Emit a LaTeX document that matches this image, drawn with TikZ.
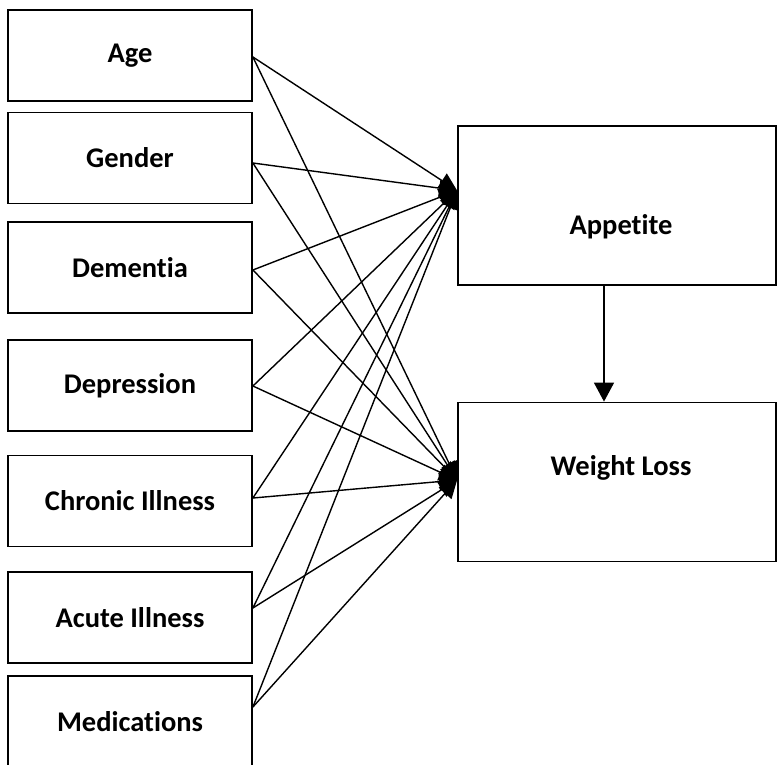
\documentclass[tikz,border=0pt]{standalone}
\usepackage{fontspec}
\setmainfont{Carlito}[Ligatures=NoCommon]
\usetikzlibrary{arrows.meta}
\begin{document}
\begin{tikzpicture}[x=1pt, y=-1pt,
  factor/.style={draw, line width=1.8pt, minimum width=244pt, minimum height=91pt, inner sep=0pt, font=\bfseries\fontsize{28.5}{34}\selectfont},
  outcome/.style={draw, line width=1.8pt, minimum width=318pt, minimum height=159pt, inner sep=0pt},
  boxtext/.style={font=\bfseries\fontsize{28.5}{34}\selectfont, inner sep=0pt},
  link/.style={-{Triangle[length=18pt, width=17pt]}, line width=1.4pt}]
  \useasboundingbox (0,0) rectangle (778,764);

  % Left column: the factors
  \foreach \name/\cy/\dy/\lbl in {age/55.5/-1.5/Age, gender/158/-5/Gender, dementia/267.5/-2.5/Dementia,
      depression/385.5/-0.5/Depression, chronic/501/3/Chronic Illness, acute/617.5/9.5/Acute Illness,
      meds/721.5/14.5/Medications} {
    \node[factor] (\name) at (130, \cy) {\lbl};
    \coordinate (\name-out) at ([yshift=\dy pt]\name.east);
  }

  % Right column: the outcomes
  \node[outcome, label={[boxtext, xshift=4pt, yshift=-21pt]center:Appetite}] (appetite) at (617, 205.5) {};
  \node[outcome, label={[boxtext, xshift=4pt, yshift=14pt]center:Weight Loss}] (loss) at (617, 482) {};
  \coordinate (appetite-in) at ([yshift=15pt]appetite.west);
  \coordinate (loss-in) at ([yshift=2pt]loss.west);

  % Every factor points to both outcomes
  \foreach \name in {age, gender, dementia, depression, chronic, acute, meds} {
    \draw[link] (\name-out) -- (appetite-in);
    \draw[link] (\name-out) -- (loss-in);
  }

  % Appetite down to weight loss
  \draw[link, -{Triangle[length=19pt, width=20pt]}] ([xshift=-13pt]appetite.south) -- ([xshift=-13pt]loss.north);
\end{tikzpicture}
\end{document}
